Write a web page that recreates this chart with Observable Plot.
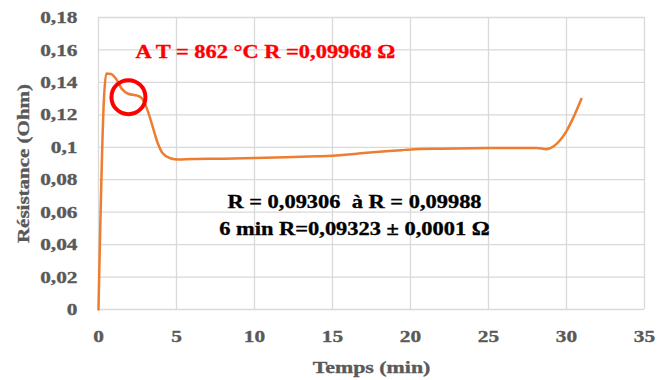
<!DOCTYPE html>
<html>
<head>
<meta charset="utf-8">
<script src="https://cdn.jsdelivr.net/npm/d3@7"></script>
<script src="https://cdn.jsdelivr.net/npm/@observablehq/plot@0.6"></script>
<style>
body { margin: 0; background: #fff; }
</style>
</head>
<body>
<div id="chart"></div>
<script>
// Data
const time = [0, 0.35, 0.5, 0.8, 1.1, 1.5, 1.9, 2.5, 2.8, 3.1, 3.4, 3.8, 4.1, 4.6, 5.1, 6, 8, 10, 12, 14, 15, 16, 17, 18, 19.4, 20, 22, 25, 28.1, 28.7, 29.2, 29.6, 30.0, 30.4, 30.95];
const resistance = [0, 0.13, 0.1455, 0.1452, 0.1425, 0.136, 0.133, 0.1318, 0.130, 0.124, 0.115, 0.1025, 0.0965, 0.0932, 0.0924, 0.0928, 0.0930, 0.0934, 0.0938, 0.0944, 0.0948, 0.0955, 0.0964, 0.0972, 0.0982, 0.0987, 0.0991, 0.0995, 0.0996, 0.0988, 0.1008, 0.1045, 0.110, 0.1175, 0.1298];

const xTicks = [0, 5, 10, 15, 20, 25, 30, 35];
const yTicks = [0, 0.02, 0.04, 0.06, 0.08, 0.1, 0.12, 0.14, 0.16, 0.18];

// Annotations
const circleX = [1.92];
const circleY = [0.1309];
const redNote = ["A T = 862 °C R =0,09968 Ω"];
const redNoteX = [10.7];
const redNoteY = [0.159];
const blackNotes = ["R = 0,09306  à R = 0,09988", "6 min R=0,09323 ± 0,0001 Ω"];
const blackNotesX = [16.41, 16.41];
const blackNotesY = [0.0664, 0.050];

const data = time.map((t, i) => ({t, r: resistance[i]}));
const fmt = d => String(d).replace(".", ",");

const chart = Plot.plot({
  width: 657,
  height: 380,
  marginLeft: 98,
  marginRight: 13,
  marginTop: 17,
  marginBottom: 71,
  style: {fontFamily: "'Liberation Serif', 'Times New Roman', serif", fontSize: "18px", fontWeight: "bold", background: "#fff"},
  x: {domain: [0, 35]},
  y: {domain: [0, 0.18]},
  marks: [
    Plot.ruleY(yTicks, {stroke: "#d9d9d9", strokeWidth: 1.3}),
    Plot.ruleX(xTicks, {stroke: "#d9d9d9", strokeWidth: 1.3}),
    Plot.axisY({ticks: yTicks, tickFormat: fmt, tickSize: 0, tickPadding: 21, fill: "#595959", fontSize: 17.5, fontWeight: "bold",
      label: "Résistance (Ohm)", labelAnchor: "center", labelArrow: "none", labelOffset: 82}),
    Plot.axisX({ticks: xTicks, tickSize: 0, tickPadding: 20, fill: "#595959", fontSize: 17.5, fontWeight: "bold",
      label: "Temps (min)", labelAnchor: "center", labelArrow: "none", labelOffset: 63}),
    Plot.line(data, {x: "t", y: "r", stroke: "#ED7D31", strokeWidth: 2.5, curve: "monotone-x"}),
    Plot.dot(circleX.map((x, i) => ({x, y: circleY[i]})), {x: "x", y: "y", r: 17, stroke: "#FF0000", strokeWidth: 4, fill: "none"}),
    Plot.text(redNote.map((s, i) => ({s, x: redNoteX[i], y: redNoteY[i]})), {x: "x", y: "y", text: "s", fill: "#FF0000", fontSize: 19.5, fontWeight: "bold"}),
    Plot.text(blackNotes.map((s, i) => ({s, x: blackNotesX[i], y: blackNotesY[i]})), {x: "x", y: "y", text: "s", fill: "#000000", fontSize: 19.5, fontWeight: "bold"})
  ]
});
document.getElementById("chart").appendChild(chart);

// The reference text is stretched along its baseline: widen glyphs to match
function stretch(nodes, k) {
  nodes.forEach(n => {
    const w = n.getComputedTextLength();
    n.setAttribute("textLength", (w * k).toFixed(2));
    n.setAttribute("lengthAdjust", "spacingAndGlyphs");
  });
}
const svg = d3.select(chart);
stretch(svg.selectAll('g[aria-label="y-axis tick label"] text').nodes(), 1.22);
stretch(svg.selectAll('g[aria-label="x-axis tick label"] text').nodes(), 1.22);
stretch(svg.selectAll('g[aria-label="x-axis label"] text').nodes(), 1.25);
stretch(svg.selectAll('g[aria-label="y-axis label"] text').nodes(), 1.2);
stretch(svg.selectAll('g[aria-label="text"] text').nodes(), 1.15);
// slightly heavier strokes to match the reference's bold rendering
svg.selectAll('g[aria-label$="axis tick label"], g[aria-label$="axis label"]').attr("stroke", "#595959").attr("stroke-width", 0.35);
svg.selectAll('g[aria-label="text"]').each(function() {
  const g = d3.select(this);
  g.attr("stroke", g.attr("fill")).attr("stroke-width", 0.35);
});
</script>
</body>
</html>
